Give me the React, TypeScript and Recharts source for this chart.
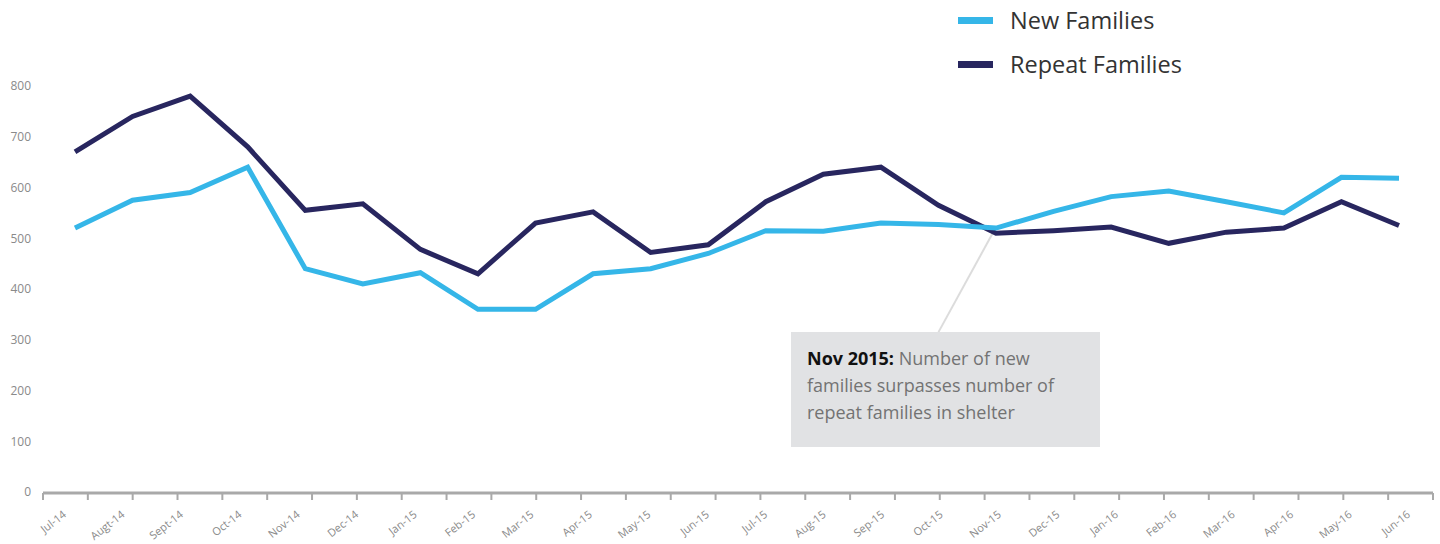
import { LineChart, Line, XAxis, YAxis, ReferenceLine } from "recharts";

const months = [
    "Jul-14", "Augt-14", "Sept-14", "Oct-14", "Nov-14", "Dec-14", "Jan-15", "Feb-15",
    "Mar-15", "Apr-15", "May-15", "Jun-15", "Jul-15", "Aug-15", "Sep-15", "Oct-15",
    "Nov-15", "Dec-15", "Jan-16", "Feb-16", "Mar-16", "Apr-16", "May-16", "Jun-16"
];

const newFamilies = [
    520, 575, 590, 640, 440, 410, 432, 360, 360, 430, 440, 470,
    515, 514, 530, 527, 520, 553, 582, 593, 572, 550, 620, 618
];

const repeatFamilies = [
    670, 740, 780, 680, 555, 568, 478, 430, 530, 552, 472, 487,
    572, 626, 640, 565, 510, 515, 522, 490, 512, 520, 572, 525
];

const yTicks = [0, 100, 200, 300, 400, 500, 600, 700, 800];

// tick marks on the bottom axis don't line up with the months
const axisMarks = Array.from({ length: 32 }, (_, i) => i);

const series = [
    { key: "newFamilies", name: "New Families", color: "#35b6e8" },
    { key: "repeatFamilies", name: "Repeat Families", color: "#28265f" },
];

const data = months.map((month, i) => ({
    month,
    newFamilies: newFamilies[i],
    repeatFamilies: repeatFamilies[i],
}));

const FONT = "'Open Sans', sans-serif";

function MonthTick(props: any) {
    const { x, y, payload } = props;
    return (
        <text
            x={x}
            y={y}
            dy={5}
            textAnchor="end"
            fontSize={11}
            fill="#8a8a8a"
            fontFamily={FONT}
            transform={`rotate(-38, ${x}, ${y})`}
        >
            {payload.value}
        </text>
    );
}

export default function App() {
    return (
        <div style={{ position: "absolute", left: 0, top: 0, width: 1440, height: 544, fontFamily: FONT }}>
            <LineChart width={1440} height={544} data={data} margin={{ top: 86, right: 7, bottom: 11, left: 0 }}>
                <XAxis xAxisId="cat" dataKey="month" hide height={0} padding={{ left: 32, right: 34 }} />
                <XAxis
                    xAxisId="labels"
                    dataKey="month"
                    interval={0}
                    height={1}
                    padding={{ left: 21, right: 25 }}
                    axisLine={false}
                    tickLine={false}
                    tickSize={14}
                    tickMargin={6}
                    tick={<MonthTick />}
                />
                <XAxis
                    xAxisId="marks"
                    type="number"
                    dataKey={() => 0}
                    domain={[0, 31]}
                    ticks={axisMarks}
                    interval={0}
                    height={40}
                    allowDataOverflow
                    stroke="#a9a9a9"
                    axisLine={{ stroke: "#a9a9a9", strokeWidth: 3 }}
                    tickLine={{ stroke: "#a9a9a9", strokeWidth: 2 }}
                    tickSize={7}
                    tickFormatter={() => ""}
                />
                <YAxis
                    width={43}
                    domain={[0, 800]}
                    ticks={yTicks}
                    axisLine={false}
                    tickLine={false}
                    tickMargin={6}
                    tick={{ fontSize: 12, fill: "#8a8a8a", fontFamily: FONT }}
                />
                <ReferenceLine
                    xAxisId="cat"
                    segment={[{ x: "Nov-15", y: 522 }, { x: "Oct-15", y: 315 }]}
                    stroke="#dcdcdc"
                    strokeWidth={2}
                />
                <Line
                    xAxisId="cat"
                    dataKey="repeatFamilies"
                    name="Repeat Families"
                    stroke="#28265f"
                    strokeWidth={5}
                    strokeLinejoin="miter"
                    strokeLinecap="butt"
                    dot={false}
                    activeDot={false}
                    type="linear"
                    isAnimationActive={false}
                />
                <Line
                    xAxisId="cat"
                    dataKey="newFamilies"
                    name="New Families"
                    stroke="#35b6e8"
                    strokeWidth={5}
                    strokeLinejoin="miter"
                    strokeLinecap="butt"
                    dot={false}
                    activeDot={false}
                    type="linear"
                    isAnimationActive={false}
                />
            </LineChart>

            <div style={{ position: "absolute", left: 958, top: -2 }}>
                {series.map((s) => (
                    <div key={s.key} style={{ display: "flex", alignItems: "center", height: 44 }}>
                        <div style={{ width: 35, height: 7, background: s.color, marginRight: 17 }} />
                        <span style={{ fontSize: 23.5, color: "#333" }}>{s.name}</span>
                    </div>
                ))}
            </div>

            <div
                style={{
                    position: "absolute",
                    left: 791,
                    top: 332,
                    width: 309,
                    height: 115,
                    boxSizing: "border-box",
                    background: "#e1e2e4",
                    padding: "13px 16px",
                    fontSize: 18,
                    lineHeight: "27px",
                    color: "#737373",
                    whiteSpace: "nowrap",
                }}
            >
                <b style={{ color: "#111" }}>Nov 2015:</b> Number of new<br />
                families surpasses number of<br />
                repeat families in shelter
            </div>
        </div>
    );
}
